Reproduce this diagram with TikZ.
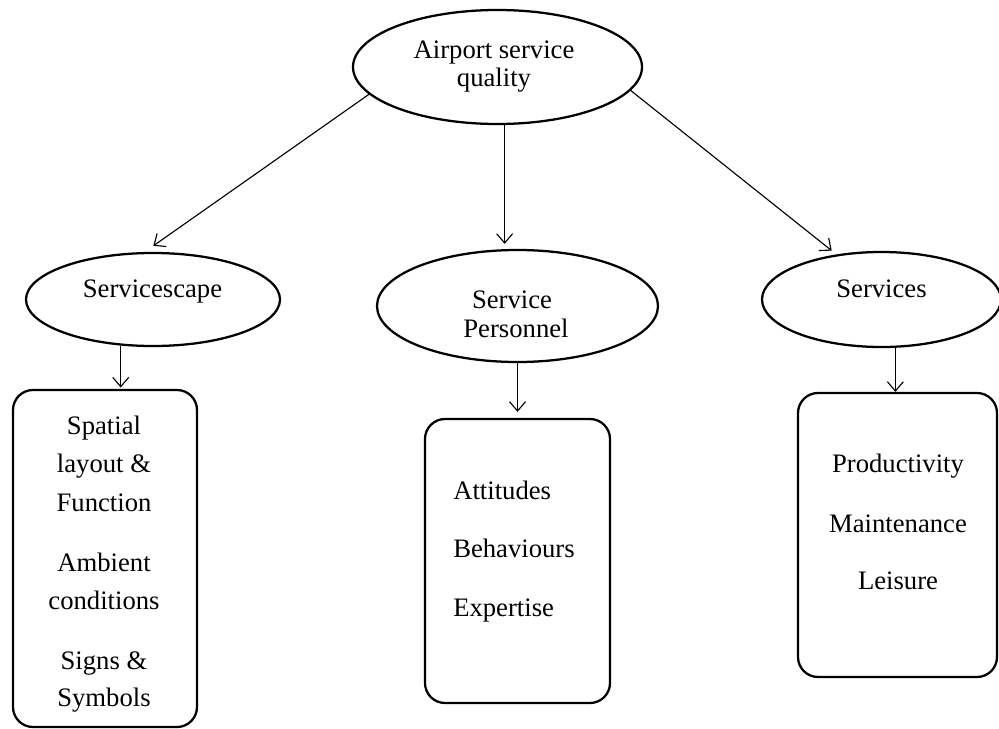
\documentclass[tikz,border=0pt]{standalone}
\usepackage{fontspec}
\setmainfont{Liberation Serif}
\usetikzlibrary{shapes.geometric,arrows.meta,calc}

\begin{document}
\begin{tikzpicture}[x=0.75pt,y=-0.75pt,
  oval/.style={ellipse, draw, line width=1.7pt, inner sep=0pt},
  card/.style={rectangle, rounded corners=15pt, draw, line width=1.7pt, inner sep=0pt},
  txt/.style={inner sep=0pt, anchor=base, font=\fontsize{20}{24}\selectfont},
  txtl/.style={txt, anchor=base west},
  link/.style={line width=0.85pt, -{Straight Barb[length=7pt,width=12pt]}}
]
\useasboundingbox (0,0) rectangle (999,728);
\fill[white] (0,0) rectangle (999,728);

% ---- ovals ----
\node[oval, minimum width=216.75pt, minimum height=85.5pt] (top) at (497.5,67) {};
\node[txt] (topA) at (494,58) {Airport service};
\node[txt] (topB) at (494,86) {quality};

\node[oval, minimum width=190.5pt, minimum height=69.75pt] (scape) at (153,299.5) {};
\node[txt] (scapeT) at (152.5,297) {Servicescape};

\node[oval, minimum width=210.75pt, minimum height=84pt] (pers) at (517.5,306) {};
\node[txt] (persA) at (512,308) {Service};
\node[txt] (persB) at (516,337) {Personnel};

\node[oval, minimum width=179.25pt, minimum height=71.25pt] (serv) at (881.5,299.5) {};
\node[txt] (servT) at (881.5,297) {Services};

% ---- boxes ----
\node[card, minimum width=138pt, minimum height=252.75pt] (lbox) at (105,558.5) {};
\node[txt] (l1) at (104,434) {Spatial};
\node[txt] (l2) at (104,472) {layout \&};
\node[txt] (l3) at (104,511) {Function};
\node[txt] (l4) at (104,571) {Ambient};
\node[txt] (l5) at (104,609) {conditions};
\node[txt] (l6) at (104,669) {Signs \&};
\node[txt] (l7) at (104,706) {Symbols};

\node[card, minimum width=138.75pt, minimum height=213pt] (mbox) at (517.5,561) {};
\node[txtl] (m1) at (453,499) {Attitudes};
\node[txtl] (m2) at (453,557) {Behaviours};
\node[txtl] (m3) at (453,616) {Expertise};

\node[card, minimum width=149.25pt, minimum height=213pt] (rbox) at (897.5,535) {};
\node[txt] (r1) at (898,472) {Productivity};
\node[txt] (r2) at (898,532) {Maintenance};
\node[txt] (r3) at (898,589) {Leisure};

% ---- connectors ----
\draw[link, shorten >=8pt] (top.192) -- (scape.100);
\draw[link, shorten >=3.75pt] (top.277.5) -- (top.277.5 |- pers.north);
\draw[link, shorten >=4.5pt] (top.350) -- (serv.135);

\draw[link, shorten >=1pt] (scape.235.5) -- (scape.235.5 |- lbox.north);
\draw[link, shorten >=4.5pt] (pers.south) -- (pers.south |- mbox.north);
\draw[link] (serv.286) -- (serv.286 |- rbox.north);
\end{tikzpicture}
\end{document}
